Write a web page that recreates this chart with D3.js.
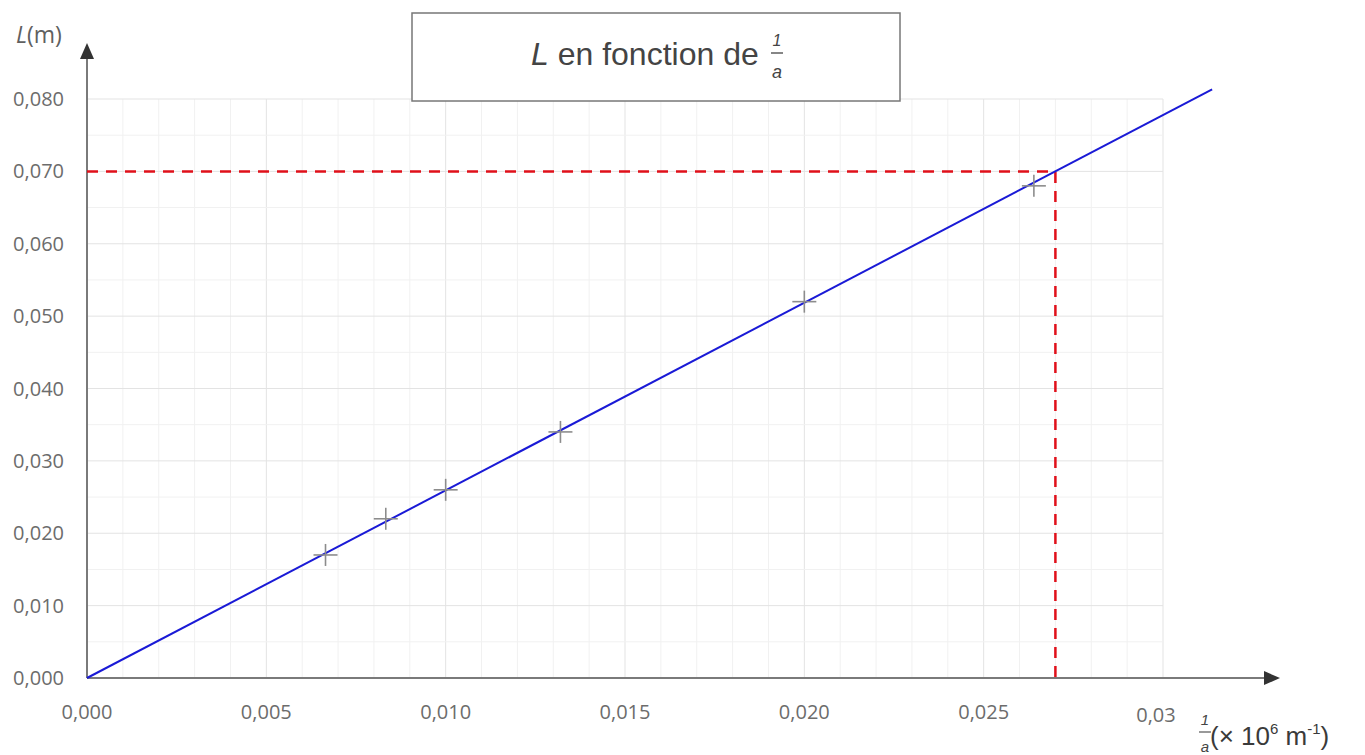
<!DOCTYPE html>
<html>
<head>
<meta charset="utf-8">
<script src="https://cdn.jsdelivr.net/npm/d3@7"></script>
<style>
  body { margin: 0; background: #fff; }
</style>
</head>
<body>
<svg id="chart"></svg>
<script>
// values
const invA = [0.00665, 0.00833, 0.0100, 0.0132, 0.0200, 0.0264];
const lengths = [0.0170, 0.0220, 0.0260, 0.0340, 0.0520, 0.0680];
const xTicks = [0, 0.005, 0.010, 0.015, 0.020, 0.025, 0.030];
const xTickLabels = ["0,000", "0,005", "0,010", "0,015", "0,020", "0,025", "0,03"];
const yTicks = [0, 0.01, 0.02, 0.03, 0.04, 0.05, 0.06, 0.07, 0.08];
const yTickLabels = ["0,000", "0,010", "0,020", "0,030", "0,040", "0,050", "0,060", "0,070", "0,080"];
const slope = 0.070 / 0.027;
const fitEnd = 0.03137;
const readX = 0.027, readY = 0.070;

const svgWidth = 1365, svgHeight = 755;
const x0 = 87, y0 = 678;
const sans = "'Open Sans', sans-serif";
const arial = "'Liberation Sans', Arial, sans-serif";

const chart = d3.select('#chart')
    .attr("width", svgWidth)
    .attr("height", svgHeight);

var xScale = d3.scaleLinear().domain([0, 0.030]).range([x0, 1163]);
var yScale = d3.scaleLinear().domain([0, 0.080]).range([y0, 99]);

// grid, minor then major
const grid = chart.append("g");
d3.range(0, 31).forEach(function(i) {
    grid.append("line")
        .attr("x1", xScale(i / 1000)).attr("x2", xScale(i / 1000))
        .attr("y1", yScale(0)).attr("y2", yScale(0.08))
        .attr("stroke", i % 5 == 0 ? "#e3e3e3" : "#f1f1f1")
        .attr("stroke-width", 1);
});
d3.range(0, 17).forEach(function(i) {
    grid.append("line")
        .attr("x1", xScale(0)).attr("x2", xScale(0.03))
        .attr("y1", yScale(i * 0.005)).attr("y2", yScale(i * 0.005))
        .attr("stroke", i % 2 == 0 ? "#e3e3e3" : "#f1f1f1")
        .attr("stroke-width", 1);
});

// axes
const axisColor = "#7a7a7a";
chart.append("line")
    .attr("x1", x0).attr("x2", 1266).attr("y1", y0).attr("y2", y0)
    .attr("stroke", axisColor).attr("stroke-width", 2);
chart.append("path")
    .attr("d", `M1264,${y0 - 7} L1280,${y0} L1264,${y0 + 7} Z`)
    .attr("fill", "#333");
chart.append("line")
    .attr("x1", x0).attr("x2", x0).attr("y1", y0).attr("y2", 58)
    .attr("stroke", axisColor).attr("stroke-width", 2);
chart.append("path")
    .attr("d", `M${x0 - 7},59 L${x0},43 L${x0 + 7},59 Z`)
    .attr("fill", "#333");

// tick labels
chart.append("g").selectAll("text")
    .data(xTicks)
    .enter().append("text")
    .attr("x", d => xScale(d) + (d == 0.030 ? -7 : 0))
    .attr("y", d => d == 0.030 ? 722 : 719)
    .attr("text-anchor", "middle")
    .style("font-family", sans)
    .style("font-size", "20px")
    .attr("fill", "#6c6c6c")
    .text((d, i) => xTickLabels[i]);

chart.append("g").selectAll("text")
    .data(yTicks)
    .enter().append("text")
    .attr("x", 64)
    .attr("y", d => yScale(d) + 7)
    .attr("text-anchor", "end")
    .style("font-family", sans)
    .style("font-size", "20px")
    .attr("fill", "#6c6c6c")
    .text((d, i) => yTickLabels[i]);

// axis titles
const yLab = chart.append("text")
    .attr("x", 16).attr("y", 43)
    .style("font-family", sans)
    .style("font-size", "23px")
    .attr("fill", "#606060");
yLab.append("tspan").style("font-style", "italic").text("L");
yLab.append("tspan").text("(m)");

const xLab = chart.append("g");
xLab.append("text").attr("x", 1205).attr("y", 725)
    .attr("text-anchor", "middle")
    .style("font-family", arial).style("font-size", "15px")
    .style("font-style", "italic").attr("fill", "#444").text("1");
xLab.append("line").attr("x1", 1199).attr("x2", 1211).attr("y1", 732).attr("y2", 732)
    .attr("stroke", "#555").attr("stroke-width", 1.2);
xLab.append("text").attr("x", 1205).attr("y", 752)
    .attr("text-anchor", "middle")
    .style("font-family", arial).style("font-size", "15px")
    .style("font-style", "italic").attr("fill", "#444").text("a");
const xl = xLab.append("text").attr("x", 1210).attr("y", 745)
    .style("font-family", arial).style("font-size", "26px")
    .attr("fill", "#3a3a3a");
xl.append("tspan").text("(× 10");
xl.append("tspan").style("font-size", "15px").attr("dy", -11).text("6");
xl.append("tspan").attr("dy", 11).text(" m");
xl.append("tspan").style("font-size", "15px").attr("dy", -11).text("-1");
xl.append("tspan").attr("dy", 11).text(")");

// reading lines
chart.append("path")
    .attr("d", `M${xScale(0)},${yScale(readY)} H${xScale(readX)} V${yScale(0)}`)
    .attr("fill", "none")
    .attr("stroke", "#e0101a")
    .attr("stroke-width", 2.5)
    .attr("stroke-dasharray", "11,8");

// fitted line
var valueline = d3.line()
    .x(d => xScale(d))
    .y(d => yScale(d * slope));
chart.append("path")
    .datum([0, fitEnd])
    .attr("d", valueline)
    .attr("fill", "none")
    .attr("stroke", "#1a1ad6")
    .attr("stroke-width", 2);

// measurement crosses
const crosses = chart.append("g")
    .attr("stroke", "#8c8c8c")
    .attr("stroke-width", 1.6);
invA.forEach(function(v, i) {
    const cx = xScale(v), cy = yScale(lengths[i]);
    crosses.append("line").attr("x1", cx - 12).attr("x2", cx + 12).attr("y1", cy).attr("y2", cy);
    crosses.append("line").attr("x1", cx).attr("x2", cx).attr("y1", cy - 11).attr("y2", cy + 11);
});

// title box
chart.append("rect")
    .attr("x", 412).attr("y", 13).attr("width", 488).attr("height", 88)
    .attr("fill", "#fff")
    .attr("stroke", "#777").attr("stroke-width", 1.5);
const title = chart.append("text")
    .attr("x", 531).attr("y", 65)
    .style("font-family", arial)
    .style("font-size", "32px")
    .attr("fill", "#444");
title.append("tspan").style("font-style", "italic").text("L");
title.append("tspan").text(" en fonction de");
chart.append("text").attr("x", 777).attr("y", 46)
    .attr("text-anchor", "middle")
    .style("font-family", arial).style("font-size", "16px")
    .style("font-style", "italic").attr("fill", "#444").text("1");
chart.append("line").attr("x1", 771).attr("x2", 783).attr("y1", 53).attr("y2", 53)
    .attr("stroke", "#444").attr("stroke-width", 1.3);
chart.append("text").attr("x", 777).attr("y", 78)
    .attr("text-anchor", "middle")
    .style("font-family", arial).style("font-size", "18px")
    .style("font-style", "italic").attr("fill", "#444").text("a");
</script>
</body>
</html>
